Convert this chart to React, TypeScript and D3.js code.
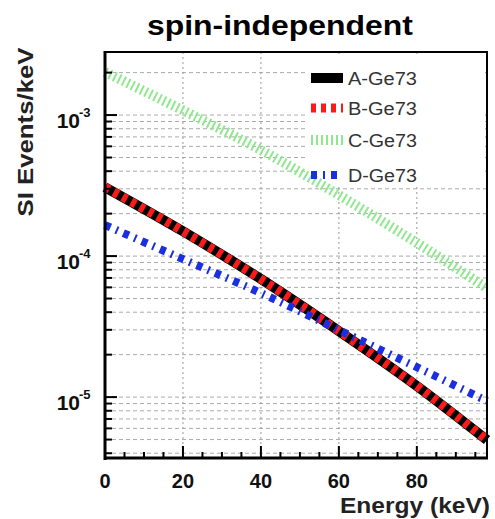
import React from "react";
import * as d3 from "d3";

const energy = [0, 20, 40, 60, 80, 98];
const seriesA = [3.08e-4, 1.5e-4, 6.87e-5, 2.94e-5, 1.2e-5, 4.96e-6];
const seriesB = [3.08e-4, 1.5e-4, 6.87e-5, 2.94e-5, 1.2e-5, 4.96e-6];
const seriesC = [2.02e-3, 1.08e-3, 5.65e-4, 2.71e-4, 1.24e-4, 5.93e-5];
const seriesD = [1.66e-4, 9.52e-5, 5.47e-5, 2.99e-5, 1.63e-5, 9.38e-6];
const seriesNames = ["A-Ge73", "B-Ge73", "C-Ge73", "D-Ge73"];
const xTicks = [0, 20, 40, 60, 80];
const yDecades = [-3, -4, -5];

const W = 495, H = 519;
const L = 105, R = 487, T = 52, B = 458;

export default function App() {
  const x = d3.scaleLinear().domain([0, 98]).range([L, R]);
  const y = d3.scaleLog().domain([3.7e-6, 2.8e-3]).range([B, T]);
  const line = d3.line<number>().x((_, i) => x(energy[i])).y((v) => y(v)).curve(d3.curveMonotoneX);

  const minorY: number[] = [];
  for (let e = -6; e <= -2; e++) {
    for (let m = 1; m <= 9; m++) {
      const v = m * Math.pow(10, e);
      if (v > 3.7e-6 && v < 2.8e-3) minorY.push(v);
    }
  }
  const minorX: number[] = [];
  for (let v = 5; v < 98; v += 5) if (v % 20 !== 0) minorX.push(v);

  const styles = [
    { data: seriesA, stroke: "#000", width: 10, dash: undefined as string | undefined },
    { data: seriesB, stroke: "#ff1a1a", width: 9, dash: "5,5" },
    { data: seriesC, stroke: "#8fe88f", width: 10, dash: "2,3" },
    { data: seriesD, stroke: "#1a2fe0", width: 8, dash: "6,6,2,6" },
  ];
  const legendY = [78, 108, 140, 175];

  return (
    <svg width={W} height={H} style={{ position: "absolute", left: 0, top: 0 }}
      fontFamily="Liberation Sans, Arial, sans-serif">
      <rect width={W} height={H} fill="#fff" />
      {/* grid */}
      {minorY.map((v, i) => (
        <line key={"gy" + i} x1={L} x2={R} y1={y(v)} y2={y(v)} stroke="#aaa" strokeWidth={1} strokeDasharray="4,3" />
      ))}
      {xTicks.filter((v) => v > 0).map((v) => (
        <line key={"gx" + v} x1={x(v)} x2={x(v)} y1={T} y2={B} stroke="#999" strokeWidth={1} strokeDasharray="2,3" />
      ))}
      {/* legend background */}
      <rect x={305} y={T + 2} width={R - 305 - 2} height={187 - T - 2} fill="#fff" />
      {/* series */}
      {styles.map((s, i) => (
        <path key={"s" + i} d={line(s.data) || ""} fill="none" stroke={s.stroke} strokeWidth={s.width}
          strokeDasharray={s.dash} />
      ))}
      {/* legend */}
      {styles.map((s, i) => (
        <g key={"lg" + i}>
          <line x1={311} x2={343} y1={legendY[i]} y2={legendY[i]} stroke={s.stroke} strokeWidth={s.width}
            strokeDasharray={s.dash} />
          <text x={348} y={legendY[i] + 7} fontSize={18} fill="#333" textLength={69} lengthAdjust="spacingAndGlyphs">{seriesNames[i]}</text>
        </g>
      ))}
      {/* frame */}
      <rect x={L} y={T} width={R - L} height={B - T} fill="none" stroke="#000" strokeWidth={2} />
      <line x1={L} x2={L} y1={T - 1} y2={B + 2} stroke="#000" strokeWidth={3} />
      <line x1={L - 1} x2={R + 1} y1={B} y2={B} stroke="#000" strokeWidth={3} />
      {/* y ticks */}
      {minorY.map((v, i) => {
        const major = Math.abs(Math.log10(v) - Math.round(Math.log10(v))) < 1e-9;
        return <line key={"ty" + i} x1={L} x2={L + (major ? 12 : 7)} y1={y(v)} y2={y(v)} stroke="#000" strokeWidth={2} />;
      })}
      {/* x ticks */}
      {xTicks.filter((v) => v > 0).map((v) => (
        <line key={"tx" + v} x1={x(v)} x2={x(v)} y1={B} y2={B - 12} stroke="#000" strokeWidth={2} />
      ))}
      {minorX.map((v) => (
        <line key={"mx" + v} x1={x(v)} x2={x(v)} y1={B} y2={B - 6} stroke="#000" strokeWidth={2} />
      ))}
      {/* x tick labels */}
      {xTicks.map((v) => (
        <text key={"xl" + v} x={x(v)} y={488} fontSize={20} fontWeight="bold" textAnchor="middle" fill="#111">{v}</text>
      ))}
      {/* y tick labels */}
      {yDecades.map((e) => (
        <g key={"yl" + e}>
          <text x={80} y={y(Math.pow(10, e)) + 13} fontSize={21} fontWeight="bold" textAnchor="end" fill="#111">10</text>
          <text x={79} y={y(Math.pow(10, e)) + 2} fontSize={13} fontWeight="bold" textAnchor="start" fill="#111">{e}</text>
        </g>
      ))}
      {/* titles */}
      <text x={280} y={35} fontSize={28} fontWeight="bold" textAnchor="middle" fill="#000" textLength={266} lengthAdjust="spacingAndGlyphs">spin-independent</text>
      <text x={340} y={513} fontSize={22} fontWeight="bold" textAnchor="start" fill="#222" textLength={150} lengthAdjust="spacingAndGlyphs">Energy (keV)</text>
      <text transform="translate(33,132) rotate(-90)" fontSize={22} fontWeight="bold" textAnchor="middle" fill="#222" textLength={169} lengthAdjust="spacingAndGlyphs">SI Events/keV</text>
    </svg>
  );
}
